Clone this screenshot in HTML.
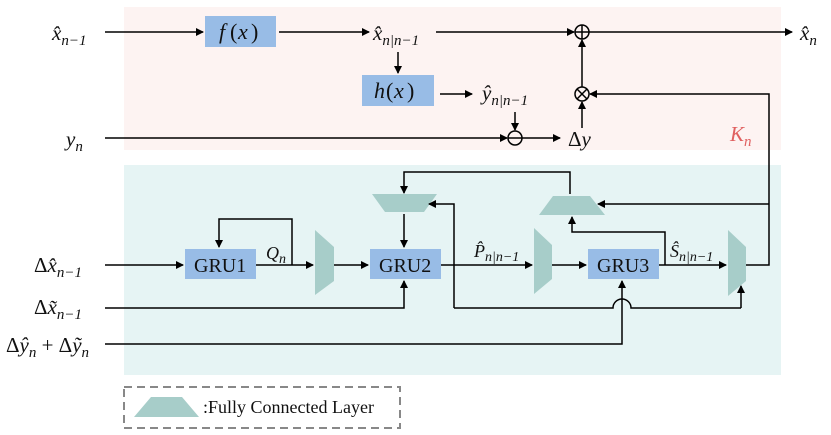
<!DOCTYPE html>
<html><head><meta charset="utf-8"><style>
body{margin:0;background:#fff}
svg{display:block}
text{font-family:"Liberation Serif",serif;fill:#111}
.m{font-style:italic;font-size:21px}
.s{font-style:italic;font-size:15px}
</style></head><body>
<svg width="831" height="435" viewBox="0 0 831 435" xmlns="http://www.w3.org/2000/svg">
<defs><marker id="a" markerWidth="8" markerHeight="8" refX="7" refY="4" orient="auto" markerUnits="userSpaceOnUse"><path d="M0,0 L8,4 L0,8 z" fill="#000"/></marker></defs>
<rect x="124" y="7" width="657" height="143" fill="#fdf3f2"/>
<rect x="124" y="165" width="657" height="210" fill="#e6f4f4"/>
<g fill="#98bce6">
<rect x="205" y="16" width="71" height="31"/><rect x="362" y="75" width="72" height="31"/>
<rect x="185" y="249" width="71" height="30"/><rect x="370" y="249" width="71" height="30"/><rect x="588" y="249" width="71" height="30"/>
</g>
<g fill="#a7cdc9">
<polygon points="372,194 437,194 424,212 385,212"/>
<polygon points="553,196 590,196 605,215 539,215"/>
<polygon points="315,230 334,247 334,281 315,295"/>
<polygon points="534,228 552,245 552,279 534,294"/>
<polygon points="728,230 746,247 746,281 728,296"/>
<polygon points="134,417 199,417 182,397 151,397"/>
</g>
<g stroke="#000" stroke-width="1.5" fill="none">
<line x1="105" y1="32" x2="203" y2="32" marker-end="url(#a)"/>
<line x1="279" y1="32" x2="369" y2="32" marker-end="url(#a)"/>
<line x1="398" y1="52" x2="398" y2="73" marker-end="url(#a)"/>
<line x1="436" y1="32" x2="574" y2="32" marker-end="url(#a)"/>
<circle cx="582" cy="32" r="7"/><line x1="575" y1="32" x2="589" y2="32"/><line x1="582" y1="25" x2="582" y2="39"/>
<line x1="589" y1="32" x2="792" y2="32" marker-end="url(#a)"/>
<circle cx="582" cy="94" r="7"/><line x1="577" y1="89" x2="587" y2="99"/><line x1="587" y1="89" x2="577" y2="99"/>
<line x1="582" y1="87" x2="582" y2="40" marker-end="url(#a)"/>
<line x1="440" y1="94" x2="472" y2="94" marker-end="url(#a)"/>
<line x1="515" y1="112" x2="515" y2="130" marker-end="url(#a)"/>
<line x1="105" y1="138" x2="507" y2="138" marker-end="url(#a)"/>
<circle cx="515" cy="138" r="7"/><line x1="508" y1="138" x2="522" y2="138"/>
<line x1="522" y1="138" x2="560" y2="138" marker-end="url(#a)"/>
<line x1="582" y1="128" x2="582" y2="102" marker-end="url(#a)"/>
<polyline points="746,265 769,265 769,94 590,94" marker-end="url(#a)"/>
<line x1="769" y1="204" x2="598" y2="204" marker-end="url(#a)"/>
<polyline points="570,194 570,172 404,172 404,193" marker-end="url(#a)"/>
<line x1="404" y1="214" x2="404" y2="247" marker-end="url(#a)"/>
<polyline points="741,308 741,286" marker-end="url(#a)"/>
<path d="M454,308 V204 H429" marker-end="url(#a)"/>
<path d="M454,308 H613 A9,9 0 0 1 631,308 H741"/>
<line x1="105" y1="265" x2="183" y2="265" marker-end="url(#a)"/>
<line x1="256" y1="265" x2="313" y2="265" marker-end="url(#a)"/>
<polyline points="292,265 292,219 219,219 219,247" marker-end="url(#a)"/>
<line x1="334" y1="265" x2="368" y2="265" marker-end="url(#a)"/>
<polyline points="105,308 404,308 404,281" marker-end="url(#a)"/>
<line x1="441" y1="265" x2="532" y2="265" marker-end="url(#a)"/>
<line x1="552" y1="265" x2="586" y2="265" marker-end="url(#a)"/>
<line x1="659" y1="265" x2="726" y2="265" marker-end="url(#a)"/>
<polyline points="665,265 665,232 572,232 572,217" marker-end="url(#a)"/>
<polyline points="105,344 622,344 622,281" marker-end="url(#a)"/>
<rect x="124" y="387" width="276" height="41" stroke="#888" stroke-width="2" stroke-dasharray="8,5"/>
</g>
<text class="m" x="219" y="39" style="font-size:22px">f</text><text x="230" y="39" style="font-size:22px">(</text><text class="m" x="238" y="39" style="font-size:22px">x</text><text x="251" y="39" style="font-size:22px">)</text>
<text class="m" x="374" y="98" style="font-size:22px">h</text><text x="386" y="98" style="font-size:22px">(</text><text class="m" x="394" y="98" style="font-size:22px">x</text><text x="407" y="98" style="font-size:22px">)</text>
<text class="m" x="52" y="40">x̂<tspan class="s" dy="5">n−1</tspan></text>
<text class="m" x="373" y="40">x̂<tspan class="s" dy="5">n|n−1</tspan></text>
<text class="m" x="800" y="40">x̂<tspan class="s" dy="5">n</tspan></text>
<text class="m" x="482" y="100">ŷ<tspan class="s" dy="5">n|n−1</tspan></text>
<text class="m" x="66" y="146">y<tspan class="s" dy="5">n</tspan></text>
<text x="568" y="146" style="font-size:21px">Δ<tspan font-style="italic">y</tspan></text>
<text class="m" x="730" y="141" style="fill:#e06060">K<tspan class="s" dy="5" style="fill:#e06060">n</tspan></text>
<text x="34" y="272" style="font-size:21px">Δ<tspan font-style="italic">x̂</tspan><tspan class="s" dy="5">n−1</tspan></text>
<text x="34" y="314" style="font-size:21px">Δ<tspan font-style="italic">x̃</tspan><tspan class="s" dy="5">n−1</tspan></text>
<text x="6" y="352" style="font-size:21px">Δ<tspan font-style="italic">ŷ</tspan><tspan class="s" dy="5">n</tspan><tspan dy="-5"> + Δ</tspan><tspan font-style="italic">ỹ</tspan><tspan class="s" dy="5">n</tspan></text>
<text class="m" x="266" y="259" style="font-size:18px">Q<tspan class="s" dy="4" style="font-size:14px">n</tspan></text>
<text class="m" x="474" y="257" style="font-size:18px">P̂<tspan class="s" dy="4" style="font-size:14px">n|n−1</tspan></text>
<text class="m" x="670" y="257" style="font-size:18px">Ŝ<tspan class="s" dy="4" style="font-size:14px">n|n−1</tspan></text>
<text x="194" y="272" style="font-size:20px">GRU1</text>
<text x="379" y="272" style="font-size:20px">GRU2</text>
<text x="597" y="272" style="font-size:20px">GRU3</text>
<text x="203" y="413" style="font-size:18px">:Fully Connected Layer</text>
</svg>
</body></html>
